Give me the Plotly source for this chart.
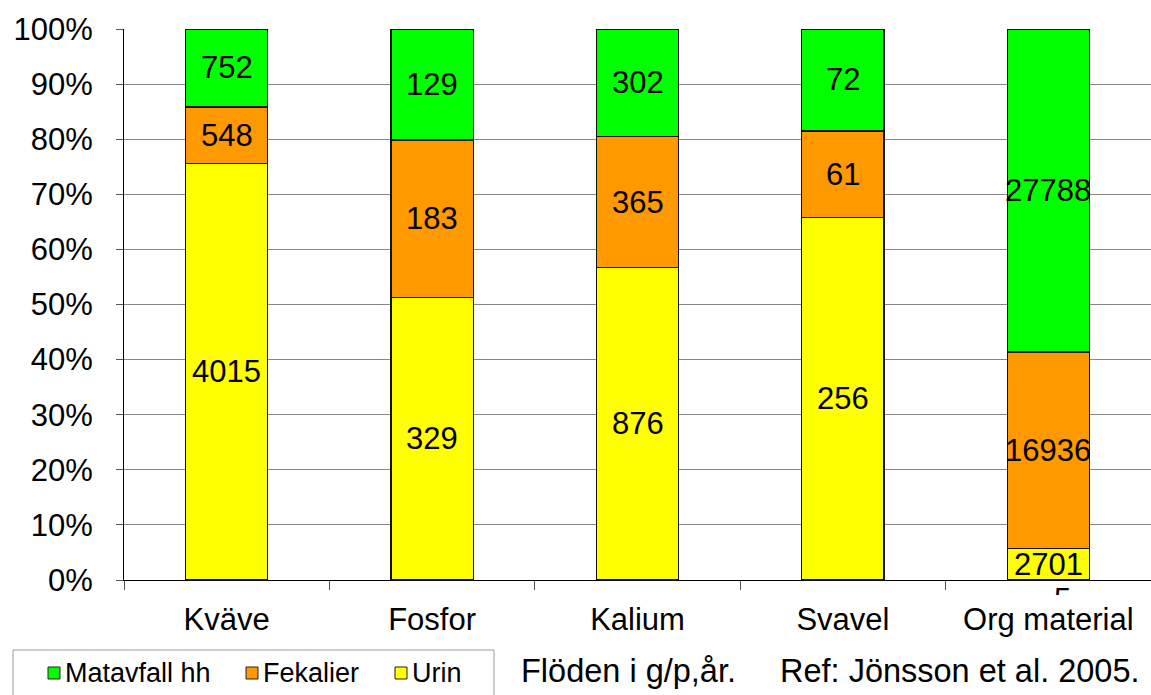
import plotly.graph_objects as go

categories = ["Kväve", "Fosfor", "Kalium", "Svavel", "Org material"]
matavfall = [752, 129, 302, 72, 27788]
fekalier = [548, 183, 365, 61, 16936]
urin = [4015, 329, 876, 256, 2701]
y_ticks = list(range(0, 101, 10))
y_tick_labels = [f"{v}%" for v in y_ticks]

totals = [a + b + c for a, b, c in zip(matavfall, fekalier, urin)]
pct = lambda vals: [100.0 * v / t for v, t in zip(vals, totals)]
urin_p, fek_p, mat_p = pct(urin), pct(fekalier), pct(matavfall)

FONT = "Liberation Sans, Arial, sans-serif"
GREEN, ORANGE, YELLOW = "#00FF00", "#FF9900", "#FFFF00"
line = dict(color="#111111", width=1.3)

# plot-area geometry (pixels) used to place paper-referenced decorations
W, H = 1151, 695
L, R, T, B = 124, 0, 29, 115
PW, PH = W - L - R, H - T - B
px = lambda x: (x - L) / PW
py = lambda y: (H - B - y) / PH

fig = go.Figure()
fig.add_bar(name="Urin", x=categories, y=urin_p, marker=dict(color=YELLOW, line=line))
fig.add_bar(name="Fekalier", x=categories, y=fek_p, marker=dict(color=ORANGE, line=line))
fig.add_bar(name="Matavfall hh", x=categories, y=mat_p, marker=dict(color=GREEN, line=line))

# value labels centred in each segment
for i, cat in enumerate(categories):
    base = 0.0
    for vals, p in ((urin, urin_p), (fekalier, fek_p), (matavfall, mat_p)):
        fig.add_annotation(x=cat, y=base + p[i] / 2, text=str(vals[i]), showarrow=False,
                           font=dict(family=FONT, size=31, color="black"))
        base += p[i]

# stray wrapped digit under the last label; the fixed box height clips all but its top
fig.add_annotation(x="Org material", xshift=14, y=py(581), yref="paper", yanchor="top",
                   text="5", showarrow=False, height=13, valign="top", borderpad=0,
                   font=dict(family=FONT, size=31, color="black"))

# legend box
fig.add_shape(type="rect", xref="paper", yref="paper", x0=px(13), x1=px(494),
              y0=py(702), y1=py(650), fillcolor="rgba(0,0,0,0)",
              line=dict(color="#9a9a9a", width=1))
legend_items = [("Matavfall hh", GREEN, 48), ("Fekalier", ORANGE, 246), ("Urin", YELLOW, 395)]
for name, col, x0 in legend_items:
    fig.add_shape(type="rect", xref="paper", yref="paper", x0=px(x0), x1=px(x0 + 12),
                  y0=py(679), y1=py(667), fillcolor=col, line=dict(color="#222222", width=1))
    fig.add_annotation(xref="paper", yref="paper", x=px(x0 + 15), y=py(673), xanchor="left",
                       yanchor="middle", text=name, showarrow=False,
                       font=dict(family=FONT, size=27, color="black"))

fig.add_annotation(xref="paper", yref="paper", x=px(519), y=py(671), xanchor="left", yanchor="middle",
                   text="Flöden i g/p,år.", showarrow=False, font=dict(family=FONT, size=32.5, color="black"))
fig.add_annotation(xref="paper", yref="paper", x=px(778), y=py(671), xanchor="left", yanchor="middle",
                   text="Ref: Jönsson et al. 2005.", showarrow=False, font=dict(family=FONT, size=32.5, color="black"))

fig.update_layout(
    barmode="stack",
    bargap=0.6,
    width=W, height=H,
    margin=dict(l=L, r=R, t=T, b=B),
    paper_bgcolor="white", plot_bgcolor="white",
    font=dict(family=FONT, size=31, color="black"),
    showlegend=False,
    xaxis=dict(showline=True, linecolor="black", linewidth=1, ticks="outside", ticklen=9,
               tickcolor="#555555", tickson="boundaries", showgrid=False,
               tickfont=dict(family=FONT, size=31, color="black"), ticklabelstandoff=12),
    yaxis=dict(range=[0, 100], tickvals=y_ticks, ticktext=y_tick_labels, showline=True,
               linecolor="black", linewidth=1, ticks="outside", ticklen=7, tickcolor="#555555",
               showgrid=True, gridcolor="#888888", gridwidth=1, zeroline=False,
               tickfont=dict(family=FONT, size=31, color="black"), ticklabelstandoff=17),
)

fig.write_html("out.html")
